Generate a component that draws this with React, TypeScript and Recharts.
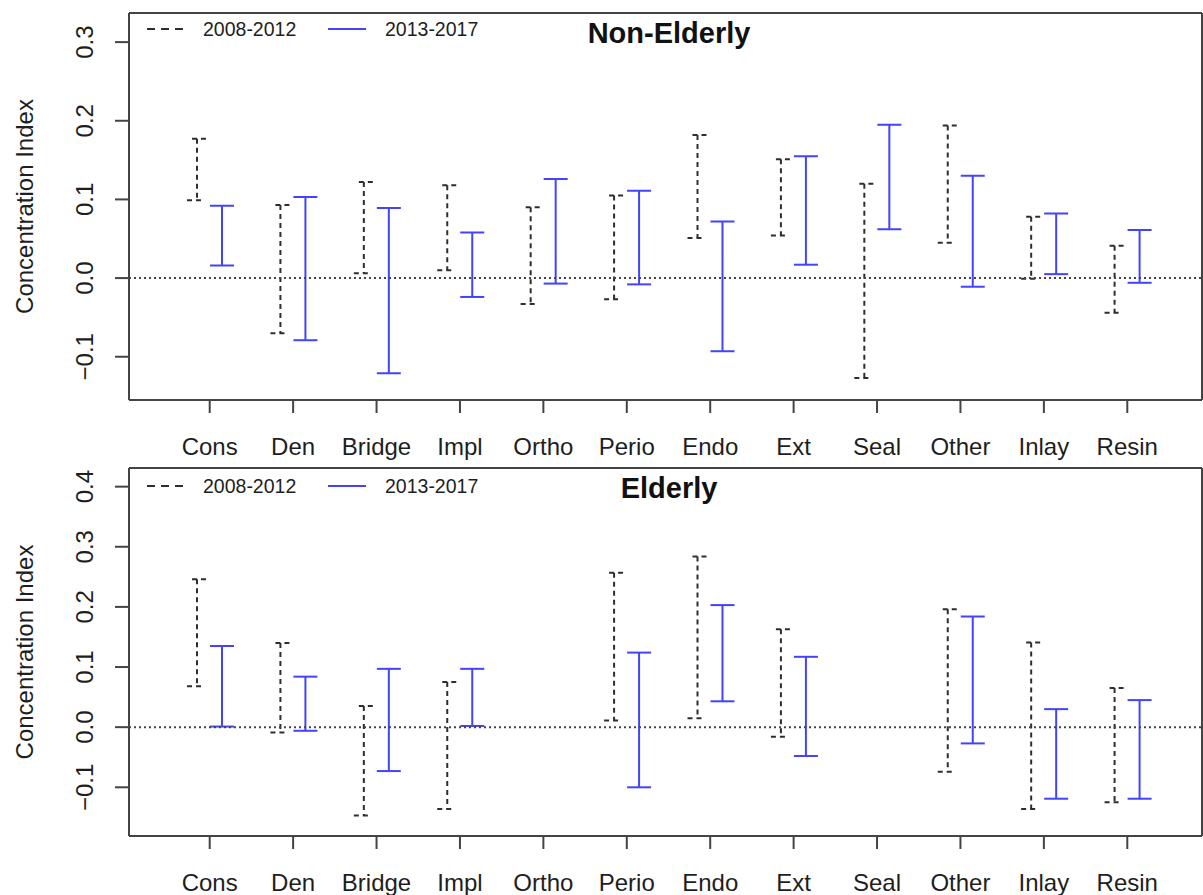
import React from "react";
import { Bar, ComposedChart, Customized, ReferenceLine, XAxis, YAxis } from "recharts";

// procedure groups on the x axis
const categories = ["Cons", "Den", "Bridge", "Impl", "Ortho", "Perio", "Endo", "Ext", "Seal", "Other", "Inlay", "Resin"];
const periods = ["2008-2012", "2013-2017"];

// Non-Elderly: 95% CI bounds of the concentration index
const youngLow08 = [0.099, -0.07, 0.006, 0.01, -0.033, -0.027, 0.051, 0.054, -0.127, 0.045, -0.001, -0.044];
const youngHigh08 = [0.177, 0.093, 0.122, 0.118, 0.09, 0.105, 0.182, 0.151, 0.12, 0.194, 0.078, 0.041];
const youngLow13 = [0.016, -0.079, -0.121, -0.024, -0.007, -0.008, -0.093, 0.017, 0.062, -0.011, 0.005, -0.006];
const youngHigh13 = [0.092, 0.103, 0.089, 0.058, 0.126, 0.111, 0.072, 0.155, 0.195, 0.13, 0.082, 0.061];

// Elderly (no estimate for Ortho and Seal)
const oldLow08 = [0.068, -0.009, -0.147, -0.136, null, 0.011, 0.015, -0.016, null, -0.074, -0.136, -0.125];
const oldHigh08 = [0.246, 0.14, 0.035, 0.075, null, 0.257, 0.284, 0.163, null, 0.196, 0.141, 0.065];
const oldLow13 = [0.001, -0.006, -0.073, 0.002, null, -0.1, 0.043, -0.048, null, -0.027, -0.119, -0.119];
const oldHigh13 = [0.135, 0.084, 0.097, 0.097, null, 0.124, 0.203, 0.117, null, 0.184, 0.03, 0.045];

const youngTicks = [-0.1, 0, 0.1, 0.2, 0.3];
const oldTicks = [-0.1, 0, 0.1, 0.2, 0.3, 0.4];

const FONT = "'Liberation Sans', Arial, Helvetica, sans-serif";
const INK = "#1e1e1e";
const FRAME = "#444";
const DARK = "#2e2e2e";
const BLUE = "#4343ff";

type Range = [number, number] | null;

function buildRows(lo08: (number | null)[], hi08: (number | null)[], lo13: (number | null)[], hi13: (number | null)[]) {
  return categories.map((name, i) => ({
    name,
    p08: (lo08[i] == null ? null : [lo08[i], hi08[i]]) as Range,
    p13: (lo13[i] == null ? null : [lo13[i], hi13[i]]) as Range,
  }));
}

const youngRows = buildRows(youngLow08, youngHigh08, youngLow13, youngHigh13);
const oldRows = buildRows(oldLow08, oldHigh08, oldLow13, oldHigh13);

function fmt(v: number) {
  const s = Math.abs(v).toFixed(1);
  return v < 0 ? "\u2212" + s : s;
}

function DashedBar(props: any) {
  const { x, y, width, height, payload } = props;
  if (!payload || !payload.p08 || !isFinite(y) || !isFinite(height)) return null;
  const cx = x + width / 2;
  const top = Math.min(y, y + height);
  const bot = Math.max(y, y + height);
  return (
    <g stroke={DARK} strokeWidth={2} fill="none">
      <line x1={cx} y1={top} x2={cx} y2={bot} strokeDasharray="5 4" />
      <line x1={cx + 9} y1={top} x2={cx - 6} y2={top} strokeDasharray="5 4" />
      <line x1={cx - 10} y1={bot} x2={cx + 5} y2={bot} strokeDasharray="5 4" />
    </g>
  );
}

function SolidBar(props: any) {
  const { x, y, width, height, payload } = props;
  if (!payload || !payload.p13 || !isFinite(y) || !isFinite(height)) return null;
  const cx = x + width / 2;
  const top = Math.min(y, y + height);
  const bot = Math.max(y, y + height);
  return (
    <g stroke={BLUE} strokeWidth={2} fill="none">
      <line x1={cx} y1={top} x2={cx} y2={bot} />
      <line x1={x} y1={top} x2={x + width} y2={top} />
      <line x1={x} y1={bot} x2={x + width} y2={bot} />
    </g>
  );
}

function CategoryTick({ x, y, payload }: any) {
  return (
    <text x={x} y={y + 40} textAnchor="middle" fontSize={24} fill={INK} fontFamily={FONT}>
      {payload.value}
    </text>
  );
}

function ValueTick({ x, y, payload }: any) {
  const bx = x - 20;
  return (
    <text x={bx} y={y} transform={`rotate(-90 ${bx} ${y})`} textAnchor="middle" fontSize={24} fill={INK} fontFamily={FONT}>
      {fmt(payload.value)}
    </text>
  );
}

function Decor({ title, titleY, legendY, midY }: { title: string; titleY: number; legendY: number; midY: number }) {
  return (
    <g fontFamily={FONT}>
      <text x={669} y={titleY} textAnchor="middle" fontSize={29} fontWeight="bold" fill="#111">
        {title}
      </text>
      <line x1={147} x2={185} y1={legendY} y2={legendY} stroke={DARK} strokeWidth={2} strokeDasharray="8 6" />
      <text x={203} y={legendY + 7} fontSize={19.5} fill={INK}>
        {periods[0]}
      </text>
      <line x1={328} x2={366} y1={legendY} y2={legendY} stroke={BLUE} strokeWidth={2} />
      <text x={385} y={legendY + 7} fontSize={19.5} fill={INK}>
        {periods[1]}
      </text>
      <text x={33} y={midY} transform={`rotate(-90 33 ${midY})`} textAnchor="middle" fontSize={24} fill={INK}>
        Concentration Index
      </text>
    </g>
  );
}

function Panel({
  title,
  rows,
  domain,
  ticks,
  top,
  height,
  axisHeight,
  legendY,
}: {
  title: string;
  rows: any[];
  domain: [number, number];
  ticks: number[];
  top: number;
  height: number;
  axisHeight: number;
  legendY: number;
}) {
  const plotTop = 13;
  const plotBottom = height - axisHeight;
  return (
    <div style={{ position: "absolute", left: 0, top }}>
      <ComposedChart
        width={1203}
        height={height}
        data={rows}
        margin={{ top: plotTop - 1, right: 0, bottom: 0, left: 0 }}
        barSize={24}
        barGap={1}
      >
        <XAxis
          dataKey="name"
          interval={0}
          height={axisHeight}
          padding={{ left: 39, right: 33 }}
          tickSize={13}
          tick={<CategoryTick />}
          axisLine={{ stroke: FRAME, strokeWidth: 2 }}
          tickLine={{ stroke: FRAME, strokeWidth: 2 }}
        />
        <XAxis xAxisId="frame" dataKey="name" orientation="top" height={1} tick={false} tickLine={false} axisLine={{ stroke: FRAME, strokeWidth: 2 }} />
        <YAxis
          type="number"
          domain={domain}
          ticks={ticks}
          allowDataOverflow
          width={129}
          tickSize={14}
          tick={<ValueTick />}
          axisLine={{ stroke: FRAME, strokeWidth: 2 }}
          tickLine={{ stroke: FRAME, strokeWidth: 2 }}
        />
        <YAxis yAxisId="frame" orientation="right" type="number" domain={domain} width={1} tick={false} tickLine={false} axisLine={{ stroke: FRAME, strokeWidth: 2 }} />
        <ReferenceLine y={0} stroke={FRAME} strokeWidth={2} strokeDasharray="2 3" />
        <Bar dataKey="p08" shape={DashedBar} isAnimationActive={false} />
        <Bar dataKey="p13" shape={SolidBar} isAnimationActive={false} />
        <Customized component={<Decor title={title} titleY={plotTop + 30} legendY={legendY} midY={(plotTop + plotBottom) / 2} />} />
      </ComposedChart>
    </div>
  );
}

export default function App() {
  return (
    <div style={{ position: "absolute", left: 0, top: 0, width: 1203, height: 895, background: "#fff", overflow: "hidden" }}>
      <Panel title="Non-Elderly" rows={youngRows} domain={[-0.155, 0.337]} ticks={youngTicks} top={0} height={468} axisHeight={68} legendY={29} />
      <Panel title="Elderly" rows={oldRows} domain={[-0.181, 0.431]} ticks={oldTicks} top={455} height={440} axisHeight={59} legendY={31} />
    </div>
  );
}
